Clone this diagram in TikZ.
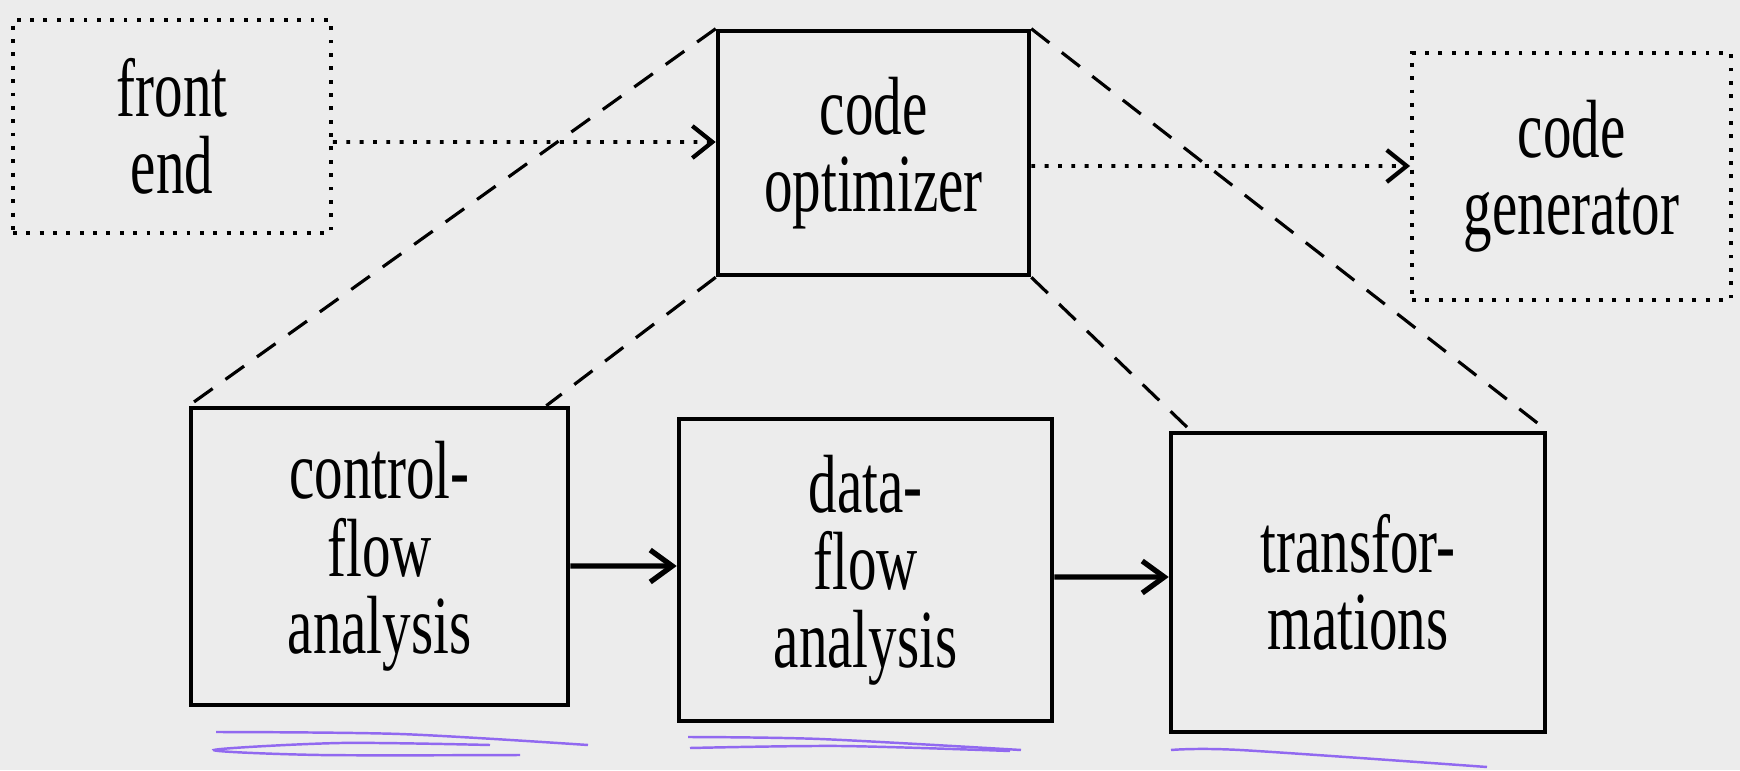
\documentclass[tikz,border=0pt]{standalone}
\usepackage{fontspec}
\usepackage{xcolor}
\newfontfamily\diagfont[FakeStretch=0.69]{Liberation Serif}
\definecolor{paper}{RGB}{236, 236, 236}
\definecolor{pen}{RGB}{145, 105, 240}
\usetikzlibrary{arrows.meta, positioning}

\begin{document}
\begin{tikzpicture}[
			unit/.style={draw, line width=1.3pt, inner sep=0pt, align=center,
				font=\diagfont\fontsize{23.5}{22}\selectfont},
			outer/.style={unit, line width=1.1pt, dash pattern=on 1.1pt off 2.7pt},
			flow/.style={line width=1.5pt, -{Straight Barb[length=2.2mm, width=3.2mm, line width=1.5pt]}},
			hint/.style={line width=1.1pt, dash pattern=on 1.1pt off 2.7pt,
				-{Straight Barb[length=2mm, width=3.2mm, line width=1.2pt]}},
			link/.style={line width=0.9pt, dash pattern=on 6.5pt off 4.5pt},
			penline/.style={pen, line width=0.7pt},
			]
			\fill[paper] (0,0) rectangle (17.4,7.7);
			\useasboundingbox (0,0) rectangle (17.4,7.7);
			% compiler phases
			\node[outer, minimum width=3.18cm, minimum height=2.13cm] (fe) at (1.72,6.435) {front\\end};
			\node[unit, minimum width=3.11cm, minimum height=2.44cm] (opt) at (8.735,6.17) {code\\optimizer};
			\node[outer, minimum width=3.19cm, minimum height=2.47cm] (gen) at (15.715,5.935) {code\\generator};
			% optimizer parts
			\node[unit, minimum width=3.77cm, minimum height=2.97cm] (cf) at (3.795,2.135) {control-\\flow\\analysis};
			\node[unit, minimum width=3.73cm, minimum height=3.02cm] (df) at (8.655,2.0) {data-\\flow\\analysis};
			\node[unit, minimum width=3.74cm, minimum height=2.99cm] (tr) at (13.58,1.875) {transfor-\\mations};
			\draw[hint] ([yshift=-1.55mm]fe.east) -- ([yshift=1.1mm]opt.west);
			\draw[hint] ([yshift=-1.3mm]opt.east) -- ([yshift=1.05mm]gen.west);
			\foreach \a/\b/\s/\t in {cf/df/-0.95mm/0.4mm, df/tr/-0.7mm/0.55mm}
			\draw[flow] ([yshift=\s]\a.east) -- ([yshift=\t]\b.west);
			\draw[link] (opt.north west) -- (cf.north west);
			\draw[link] (opt.south west) -- ([xshift=-2.4mm]cf.north east);
			\draw[link] (opt.south east) -- ([xshift=2.2mm]tr.north west);
			\draw[link] (opt.north east) -- (tr.north east);
			% pen marks
			\draw[penline] plot[smooth] coordinates {(2.16,0.38) (4.0,0.36) (5.88,0.25)};
			\draw[penline] plot[smooth] coordinates {(4.9,0.25) (3.4,0.27) (2.14,0.2) (3.2,0.15) (5.2,0.15)};
			\draw[penline] plot[smooth] coordinates {(6.88,0.33) (8.2,0.31) (10.21,0.2)};
			\draw[penline] plot[smooth] coordinates {(6.9,0.22) (8.4,0.24) (10.1,0.19)};
			\draw[penline] plot[smooth] coordinates {(11.71,0.2) (12.4,0.2) (14.87,0.03)};
	\end{tikzpicture}
\end{document}
